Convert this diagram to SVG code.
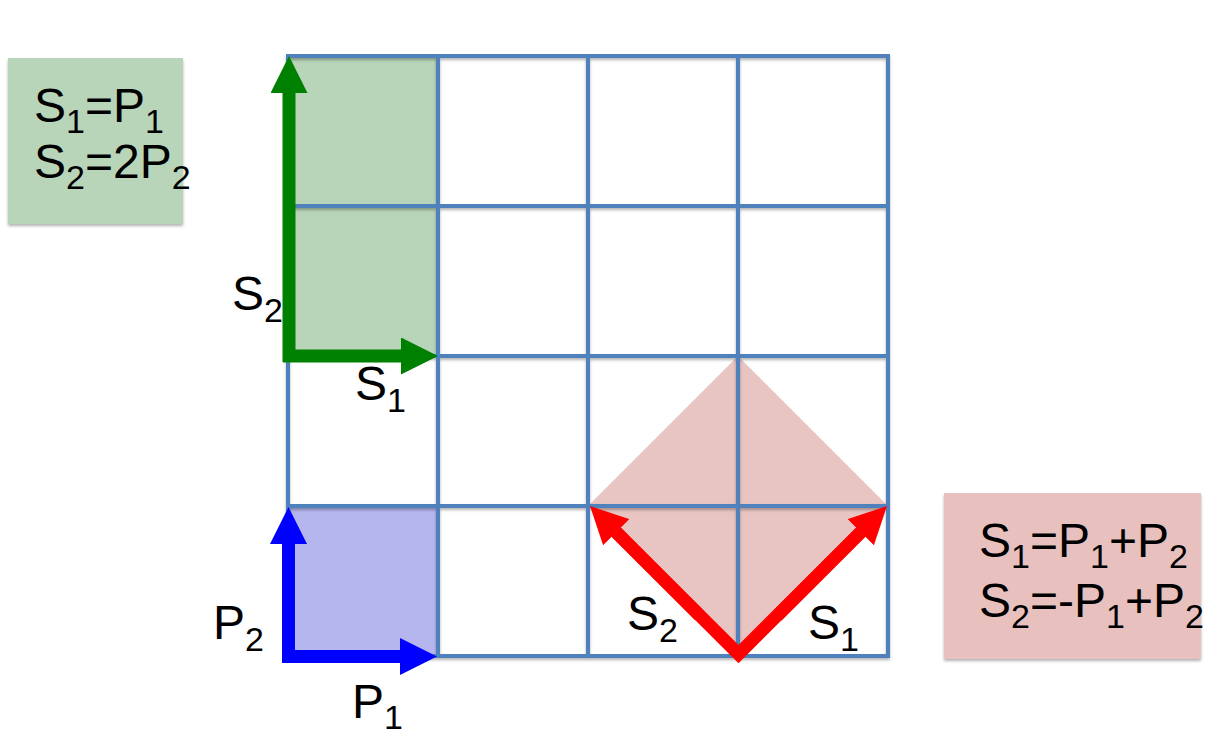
<svg xmlns="http://www.w3.org/2000/svg" width="1213" height="743" viewBox="0 0 1213 743">
<defs>
<filter id="sh" x="-5%" y="-5%" width="110%" height="110%">
<feDropShadow dx="0" dy="2" stdDeviation="1.5" flood-color="#000" flood-opacity="0.3"/>
</filter>
<marker id="hg" viewBox="0 0 37 37" markerWidth="37" markerHeight="37" markerUnits="userSpaceOnUse" refX="0" refY="18.5" orient="auto"><path d="M0,0 L37,18.5 L0,37 Z" fill="#008000"/></marker>
<marker id="hb" viewBox="0 0 37 37" markerWidth="37" markerHeight="37" markerUnits="userSpaceOnUse" refX="0" refY="18.5" orient="auto"><path d="M0,0 L37,18.5 L0,37 Z" fill="#0000FF"/></marker>
<marker id="hr" viewBox="0 0 37 37" markerWidth="37" markerHeight="37" markerUnits="userSpaceOnUse" refX="0" refY="18.5" orient="auto"><path d="M0,0 L37,18.5 L0,37 Z" fill="#FF0000"/></marker>
</defs>
<style>
text{font-family:"Liberation Sans",Arial,sans-serif;font-size:48px;fill:#000}
.sub{font-size:34px}
.grid line{stroke:#4F81BD;stroke-width:4}
.g{stroke:#008000;stroke-width:13;fill:none}
.b{stroke:#0000FF;stroke-width:13;fill:none}
.r{stroke:#FF0000;stroke-width:13;fill:none;stroke-linejoin:miter}
</style>
<rect width="1213" height="743" fill="#fff"/>
<g id="fills">
<rect id="green-cell" x="288" y="56" width="150" height="300" fill="#B8D5B9"/>
<rect id="blue-cell" x="288" y="506" width="150" height="150" fill="#B6B6EF"/>
<polygon id="red-rhombus" points="738,356 888,506 738,656 588,506" fill="#E8C4C2"/>
</g>
<g id="grid" class="grid" filter="url(#sh)">
<line x1="286" y1="56" x2="890" y2="56"/>
<line x1="286" y1="206" x2="890" y2="206"/>
<line x1="286" y1="356" x2="890" y2="356"/>
<line x1="286" y1="506" x2="890" y2="506"/>
<line x1="286" y1="656" x2="890" y2="656"/>
<line x1="288" y1="54" x2="288" y2="658"/>
<line x1="438" y1="54" x2="438" y2="658"/>
<line x1="588" y1="54" x2="588" y2="658"/>
<line x1="738" y1="54" x2="738" y2="658"/>
<line x1="888" y1="54" x2="888" y2="658"/>
</g>
<g id="connectors">
<line class="g" x1="289" y1="362" x2="289" y2="93" marker-end="url(#hg)"/>
<line class="g" x1="283" y1="356" x2="401" y2="356" marker-end="url(#hg)"/>
<line class="b" x1="288.5" y1="663" x2="288.5" y2="544" marker-end="url(#hb)"/>
<line class="b" x1="282" y1="656.5" x2="400" y2="656.5" marker-end="url(#hb)"/>
<path class="r" d="M616,532 L738.5,654 L861,532"/>
<line class="r" x1="700" y1="616" x2="616.2" y2="532.2" marker-end="url(#hr)"/>
<line class="r" x1="777" y1="616" x2="860.8" y2="532.2" marker-end="url(#hr)"/>
</g>
<g id="labels">
<text x="232" y="310">S<tspan class="sub" dy="12">2</tspan></text>
<text x="355" y="400">S<tspan class="sub" dy="12">1</tspan></text>
<text x="213" y="639">P<tspan class="sub" dy="12">2</tspan></text>
<text x="352" y="718">P<tspan class="sub" dy="11">1</tspan></text>
<text x="627" y="630">S<tspan class="sub" dy="12">2</tspan></text>
<text x="808" y="639">S<tspan class="sub" dy="12">1</tspan></text>
</g>
<g id="box-green">
<rect x="8" y="58" width="175" height="166" fill="#B8D5B9" filter="url(#sh)"/>
<text x="34" y="121.5">S<tspan class="sub" dy="11">1</tspan><tspan dy="-11">=P</tspan><tspan class="sub" dy="11">1</tspan></text>
<text x="34" y="178">S<tspan class="sub" dy="11">2</tspan><tspan dy="-11">=2P</tspan><tspan class="sub" dy="11">2</tspan></text>
</g>
<g id="box-red">
<rect x="944" y="493" width="257" height="166" fill="#E8C0BD" filter="url(#sh)"/>
<text x="979" y="557">S<tspan class="sub" dy="11">1</tspan><tspan dy="-11">=P</tspan><tspan class="sub" dy="11">1</tspan><tspan dy="-11">+P</tspan><tspan class="sub" dy="11">2</tspan></text>
<text x="979" y="617">S<tspan class="sub" dy="11">2</tspan><tspan dy="-11">=-P</tspan><tspan class="sub" dy="11">1</tspan><tspan dy="-11">+P</tspan><tspan class="sub" dy="11">2</tspan></text>
</g>
</svg>
